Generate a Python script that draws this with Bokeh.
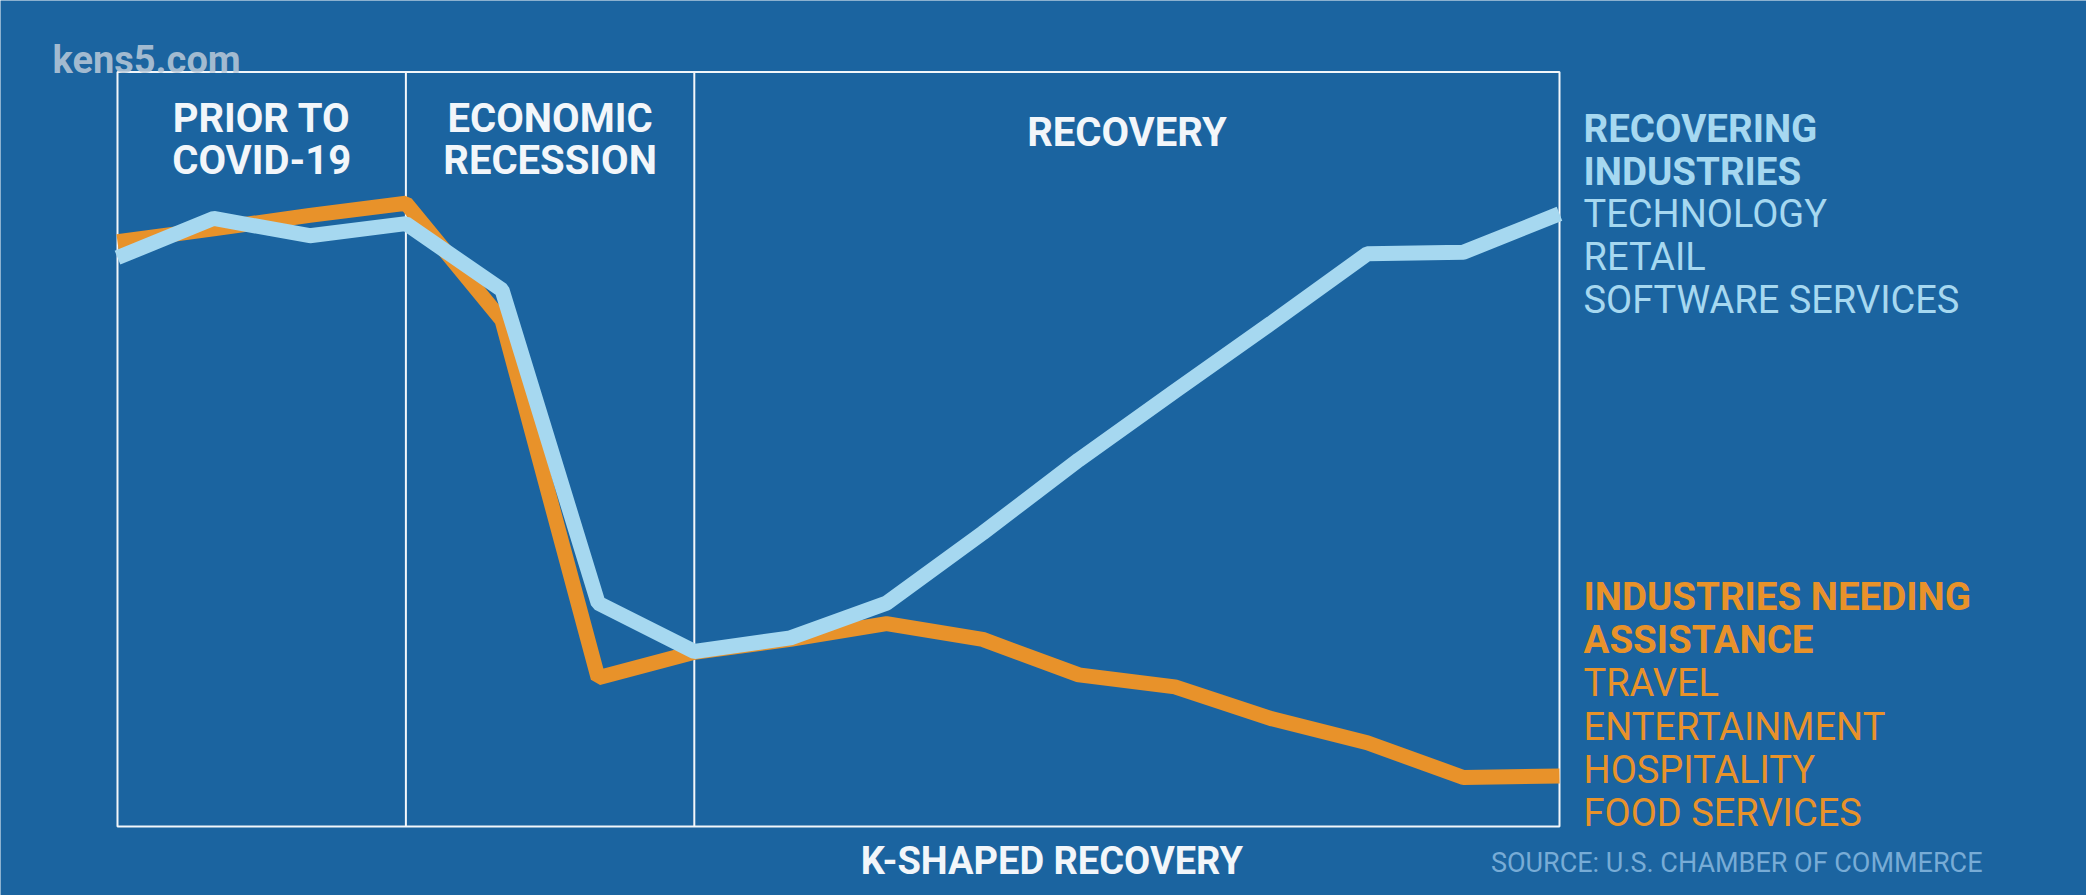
from bokeh.plotting import figure
from bokeh.models import Label
from bokeh.embed import file_html
from bokeh.resources import INLINE

# ---- data ----
step = list(range(16))
needing = [77.5, 79.2, 81.0, 82.6, 67.1, 19.7, 23.1, 24.8, 26.9, 24.8, 20.1, 18.5, 14.3, 11.1, 6.5, 6.7]
recovering = [75.4, 80.6, 78.3, 79.9, 71.1, 29.6, 23.2, 25.0, 29.6, 38.9, 48.6, 57.7, 66.7, 75.9, 76.1, 81.2]
period_bounds = [0, 3, 6, 15]
period_names = [["PRIOR TO", "COVID-19"], ["ECONOMIC", "RECESSION"], ["RECOVERY"]]
recovering_title = ["RECOVERING", "INDUSTRIES"]
recovering_items = ["TECHNOLOGY", "RETAIL", "SOFTWARE SERVICES"]
needing_title = ["INDUSTRIES NEEDING", "ASSISTANCE"]
needing_items = ["TRAVEL", "ENTERTAINMENT", "HOSPITALITY", "FOOD SERVICES"]
chart_title = "K-SHAPED RECOVERY"
source_text = "SOURCE: U.S. CHAMBER OF COMMERCE"
brand = "kens5.com"

# ---- style ----
BG = "#1b64a0"
ORANGE = "#e8922a"
LIGHTBLUE = "#a6d8f0"
WHITE = "#f2f6fa"
FONT = "Roboto"

W, H = 2086, 895
# the frame fills the whole canvas; the ranges put the chart box where it sits on the page
p = figure(width=W, height=H, output_backend="svg", toolbar_location=None,
           x_axis_type=None, y_axis_type=None,
           x_range=(-1.217, 20.482), y_range=(-9.143, 109.474),
           min_border=0)
p.background_fill_color = BG
p.border_fill_color = BG
p.outline_line_color = None
p.grid.visible = False

# chart box and period dividers
p.quad(left=[period_bounds[0]], right=[period_bounds[-1]], bottom=[0], top=[100],
       fill_color=None, line_color=WHITE, line_width=2)
inner = period_bounds[1:-1]
p.segment(x0=inner, y0=[0] * len(inner), x1=inner, y1=[100] * len(inner),
          line_color=WHITE, line_width=2)

p.line(step, needing, line_color=ORANGE, line_width=15, line_cap="butt")
p.line(step, recovering, line_color=LIGHTBLUE, line_width=15, line_cap="butt")

def lab(text, x, y, color, size, bold=True, align="left", alpha=1.0):
    p.add_layout(Label(x=x, y=y, text=text, text_color=color, text_alpha=alpha,
                       text_font=FONT, text_font_size=f"{size}px",
                       text_font_style="bold" if bold else "normal",
                       text_align=align, text_baseline="middle"))

# period headers
for i, names in enumerate(period_names):
    cx = (period_bounds[i] + period_bounds[i + 1]) / 2
    ys = [93.9, 88.3] if len(names) == 2 else [92.0]
    for n, yy in zip(names, ys):
        lab(n, cx, yy, WHITE, 40, align="center")

# right-side legends
RX = 15.25
for i, t in enumerate(recovering_title + recovering_items):
    lab(t, RX, 92.5 - i * 5.68, LIGHTBLUE, 38.5 if i < 2 else 38, bold=(i < 2))
for i, t in enumerate(needing_title + needing_items):
    lab(t, RX, 30.5 - i * 5.75, ORANGE, 38.5 if i < 2 else 38, bold=(i < 2))

lab(chart_title, 9.72, -4.6, WHITE, 38, align="center")
lab(source_text, 19.40, -4.9, "#78acd6", 27, bold=False, align="right")
lab(brand, -0.676, 101.6, "#bccbd9", 38, alpha=0.85)

open("out.html", "w").write(file_html(p, INLINE))
